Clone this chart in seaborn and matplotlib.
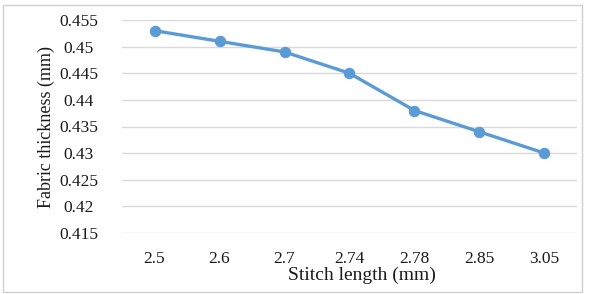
import pandas as pd
import matplotlib.pyplot as plt
import seaborn as sns
from matplotlib.patches import Rectangle

# data
stitch_length = ['2.5', '2.6', '2.7', '2.74', '2.78', '2.85', '3.05']
thickness = [0.453, 0.451, 0.449, 0.445, 0.438, 0.434, 0.430]
y_ticks = [0.415, 0.42, 0.425, 0.43, 0.435, 0.44, 0.445, 0.45, 0.455]

df = pd.DataFrame({'stitch_length': stitch_length, 'thickness': thickness})

sns.set_style('white')
plt.rcParams['font.family'] = ['Liberation Serif', 'DejaVu Serif']

fig = plt.figure(figsize=(5.92, 2.94), dpi=100)
ax = fig.add_axes([122 / 592, 1 - 233 / 294, 455 / 592, 213 / 294])

sns.lineplot(x='stitch_length', y='thickness', data=df, ax=ax, sort=False,
             color='#5B9BD5', linewidth=2.4, marker='o', markersize=7.5,
             markeredgecolor='#5B9BD5')

ax.set_xlim(-0.5, 6.5)
ax.set_ylim(0.415, 0.455)
ax.set_yticks(y_ticks)
ax.set_yticklabels([f'{v:g}' for v in y_ticks])
ax.grid(axis='y', color='#D9D9D9', linewidth=1)
ax.set_axisbelow(True)
for s in ax.spines.values():
    s.set_visible(False)
ax.tick_params(axis='both', length=0, labelsize=12.5, colors='#1a1a1a')
# y tick labels are centred in the reference
ax.tick_params(axis='y', pad=31)
for lbl in ax.get_yticklabels():
    lbl.set_horizontalalignment('center')
ax.tick_params(axis='x', pad=13)

# Add labels
ax.set_xlabel('Stitch length (mm)', fontsize=14, labelpad=0, color='#1a1a1a')
ax.xaxis.label.set_x(0.527)
ax.set_ylabel('Fabric thickness (mm)', fontsize=13, labelpad=3, color='#1a1a1a')

# light frame round the chart
fig.patches.append(Rectangle((0.005, 0.007), 0.978, 0.976, transform=fig.transFigure,
                             fill=False, edgecolor='#D0D0D0', linewidth=1))

fig.savefig('out.png', dpi=100)
